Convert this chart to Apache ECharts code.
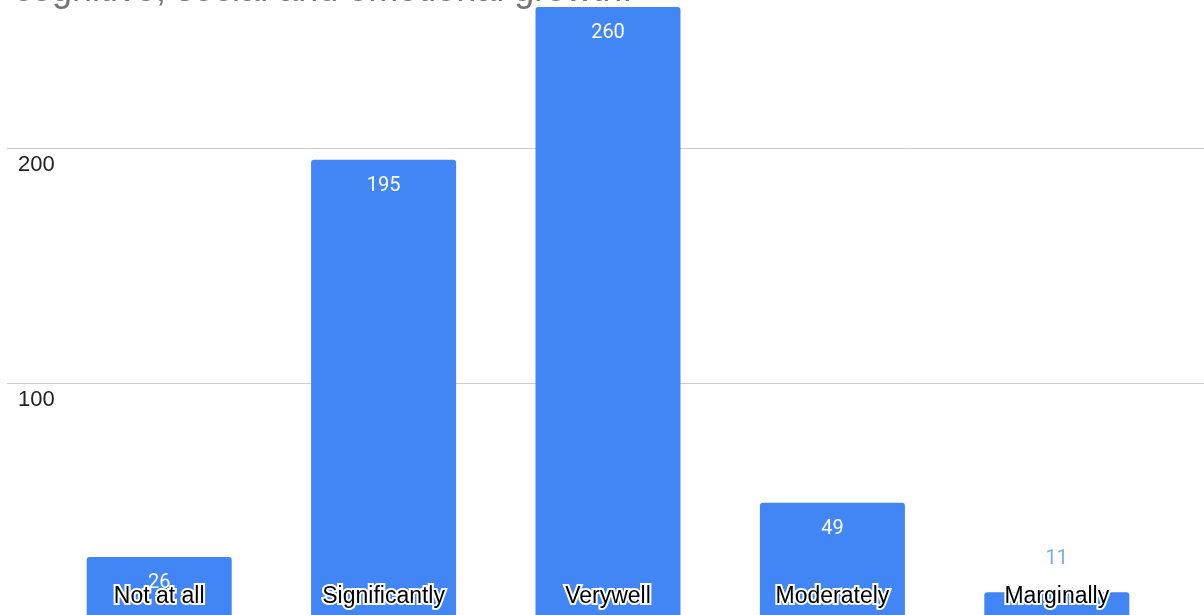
<!DOCTYPE html>
<html>
<head>
<meta charset="utf-8">
<script src="https://cdn.jsdelivr.net/npm/echarts@6/dist/echarts.min.js"></script>
<style>
  html, body { margin: 0; padding: 0; background: #fff; }
  #main { width: 1204px; height: 615px; }
</style>
</head>
<body>
<div id="main"></div>
<script>
// data
var categories = ['Not at all', 'Significantly', 'Verywell', 'Moderately', 'Marginally'];
var counts = [26, 195, 260, 49, 11];
var yTicks = [0, 100, 200, 300];
var titleText = 'cognitive, social and emotional growth.';

var chart = echarts.init(document.getElementById('main'));

// the small bar gets its label above, like the sheet does
var barData = counts.map(function (v) {
  if (v < 20) {
    return { value: v, label: { position: 'top', color: '#7baaf7', distance: 23 } };
  }
  return v;
});

var option = {
  animation: false,
  backgroundColor: '#fff',
  graphic: [{
    type: 'text',
    left: 14,
    top: -27,
    style: {
      text: titleText,
      fill: '#757575',
      font: '36px "Liberation Sans", Arial, sans-serif'
    }
  }],
  grid: [
    // bars
    { left: 47, right: 35, top: -87, bottom: -3, outerBoundsMode: 'none' },
    // gridlines + y labels across full width
    { left: 7, right: 0, top: -87, bottom: -3, outerBoundsMode: 'none' }
  ],
  xAxis: [
    {
      gridIndex: 0,
      type: 'category',
      data: categories,
      z: 10,
      axisLine: { show: false },
      axisTick: { show: false },
      axisLabel: {
        inside: true,
        margin: 10,
        color: '#000',
        fontSize: 23,
        fontFamily: '"Liberation Sans", Arial, sans-serif',
        textBorderColor: '#fff',
        textBorderWidth: 4
      }
    },
    { gridIndex: 1, type: 'value', show: false }
  ],
  yAxis: [
    {
      gridIndex: 0,
      type: 'value',
      min: yTicks[0],
      max: yTicks[yTicks.length - 1],
      interval: 100,
      show: false,
      splitLine: { show: false }
    },
    {
      gridIndex: 1,
      type: 'value',
      min: yTicks[0],
      max: yTicks[yTicks.length - 1],
      interval: 100,
      axisLine: { show: false },
      axisTick: { show: false },
      splitLine: { lineStyle: { color: '#cccccc', width: 1 } },
      axisLabel: {
        inside: true,
        margin: 11,
        verticalAlign: 'top',
        padding: [6, 0, 0, 0],
        color: '#222',
        fontSize: 22,
        fontFamily: '"Liberation Sans", Arial, sans-serif',
        formatter: function (v) { return v === 0 ? '' : v; }
      }
    }
  ],
  series: [{
    type: 'bar',
    xAxisIndex: 0,
    yAxisIndex: 0,
    data: barData,
    barWidth: 145,
    itemStyle: { color: '#4285f4', borderRadius: [3, 3, 0, 0] },
    label: {
      show: true,
      position: 'insideTop',
      distance: 16,
      color: '#fff',
      fontSize: 20,
      fontFamily: 'Roboto, Arial, sans-serif'
    }
  }]
};

chart.setOption(option);
</script>
</body>
</html>
